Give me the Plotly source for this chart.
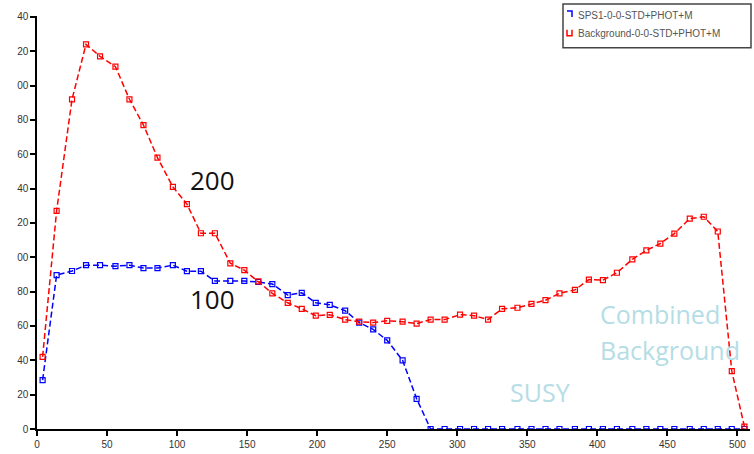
import plotly.graph_objects as go

# ---- data ----
x_vals = [4, 14, 25, 35, 45, 56, 66, 76, 86, 97, 107, 117, 127, 138, 148, 158, 168,
          179, 189, 199, 209, 220, 230, 240, 250, 261, 271, 281, 291, 302, 312, 322,
          332, 343, 353, 363, 373, 384, 394, 404, 414, 425, 435, 445, 455, 466, 476,
          486, 496, 505]

background = [42, 127, 192, 224, 217, 211, 192, 177, 158, 141, 131, 114, 114, 96.5,
              92.5, 86, 79, 73.5, 70, 66, 66.5, 63.7, 62.5, 62, 63, 62.5, 61.4, 63.7,
              63.7, 66.6, 66, 63.7, 70, 70.6, 72.9, 75, 79, 81, 87, 86.7, 91, 98.8,
              104, 108, 113.8, 122.5, 123.6, 115, 33.7, 1.4]

sps1 = [28.5, 89.6, 92, 95.4, 95.4, 94.8, 95.4, 93.7, 93.7, 95.4, 91.9, 91.9, 86.2,
        86.2, 86.2, 85.6, 84.4, 78, 79.3, 73.5, 72.3, 68.9, 62, 58, 51.6, 40, 17.6,
        0, 0, 0, 0, 0, 0, 0, 0, 0, 0, 0, 0, 0, 0, 0, 0, 0, 0, 0, 0, 0, 0, 0]

x_ticks = [0, 50, 100, 150, 200, 250, 300, 350, 400, 450, 500]
y_ticks = [0, 20, 40, 60, 80, 100, 120, 140, 160, 180, 200, 220, 240]
# the leftmost digit of the y labels is cut off in the reference
y_tick_text = ["0", "20", "40", "60", "80", "00", "20", "40", "60", "80", "00", "20", "40"]

legend_names = ["SPS1-0-0-STD+PHOT+M", "Background-0-0-STD+PHOT+M"]

# ---- geometry (page pixels) ----
W, H = 754, 454
L, R, T, B = 37, 4, 16, 21
PW, PH = W - L - R, H - T - B


def px(x):
    return (x - L) / PW


def py(y):
    return (H - B - y) / PH


fig = go.Figure()

fig.add_trace(go.Scatter(
    x=x_vals, y=sps1, mode="lines+markers", name=legend_names[0],
    line=dict(color="#0000ff", width=1.5, dash="6px,3px"),
    marker=dict(symbol="square-open", size=5, color="#0000ff", line=dict(width=1.2)),
    showlegend=False))

fig.add_trace(go.Scatter(
    x=x_vals, y=background, mode="lines+markers", name=legend_names[1],
    line=dict(color="#ff0000", width=1.5, dash="6px,3px"),
    marker=dict(symbol="square-open", size=5, color="#ff0000", line=dict(width=1.2)),
    showlegend=False))

shapes = [
    # legend frame
    dict(type="rect", xref="paper", yref="paper", x0=px(563), x1=px(751),
         y0=py(48), y1=py(4), line=dict(color="#444444", width=1.5),
         fillcolor="white", layer="above"),
    # blue legend glyph
    dict(type="path", xref="paper", yref="paper",
         path=f"M {px(567)} {py(11)} L {px(572)} {py(11)} L {px(572)} {py(17)}",
         line=dict(color="#0000ff", width=1.5), layer="above"),
    # red legend glyph
    dict(type="path", xref="paper", yref="paper",
         path=f"M {px(567)} {py(30)} L {px(567)} {py(36)} L {px(572)} {py(36)} L {px(572)} {py(30)}",
         line=dict(color="#ff0000", width=1.5), layer="above"),
]

annotations = [
    dict(xref="paper", yref="paper", x=px(576), y=py(15), text=legend_names[0],
         showarrow=False, xanchor="left", yanchor="middle",
         font=dict(family="Liberation Sans", size=10, color="#555555")),
    dict(xref="paper", yref="paper", x=px(576), y=py(34), text=legend_names[1],
         showarrow=False, xanchor="left", yanchor="middle",
         font=dict(family="Liberation Sans", size=10, color="#555555")),
    dict(x=125, y=145, text="200", showarrow=False, xanchor="center", yanchor="middle",
         font=dict(family="Open Sans", size=26, color="#111111")),
    dict(x=125, y=75.5, text="100", showarrow=False, xanchor="center", yanchor="middle",
         font=dict(family="Open Sans", size=26, color="#111111")),
    dict(x=400.5, y=67, text="Combined", showarrow=False, xanchor="left", yanchor="middle",
         font=dict(family="Open Sans", size=25, color="#b5dde5")),
    dict(x=400.5, y=46, text="Background", showarrow=False, xanchor="left", yanchor="middle",
         font=dict(family="Open Sans", size=25, color="#b5dde5")),
    dict(x=336, y=21.5, text="SUSY", showarrow=False, xanchor="left", yanchor="middle",
         font=dict(family="Open Sans", size=25, color="#b5dde5")),
]

fig.update_layout(
    width=W, height=H,
    margin=dict(l=L, r=R, t=T, b=B, pad=0),
    paper_bgcolor="white", plot_bgcolor="white",
    shapes=shapes, annotations=annotations,
    showlegend=False,
    font=dict(family="Liberation Sans", size=10, color="#333333"),
)

fig.update_xaxes(
    range=[0, 509], tickvals=x_ticks, ticktext=[str(v) for v in x_ticks],
    showgrid=False, zeroline=False, showline=True, linecolor="black", linewidth=1.5,
    ticks="outside", ticklen=5, tickwidth=1.5, tickcolor="black",
    tickfont=dict(family="Liberation Sans", size=10, color="#333333"))

fig.update_yaxes(
    range=[0, 240.5], tickvals=y_ticks, ticktext=y_tick_text,
    showgrid=False, zeroline=False, showline=True, linecolor="black", linewidth=1.5,
    ticks="outside", ticklen=5, tickwidth=1.5, tickcolor="black",
    tickfont=dict(family="Liberation Sans", size=10, color="#333333"))

fig.write_html("out.html",
               config={"displayModeBar": False},
               post_script="document.body.style.margin='0';document.body.style.overflow='hidden';")
